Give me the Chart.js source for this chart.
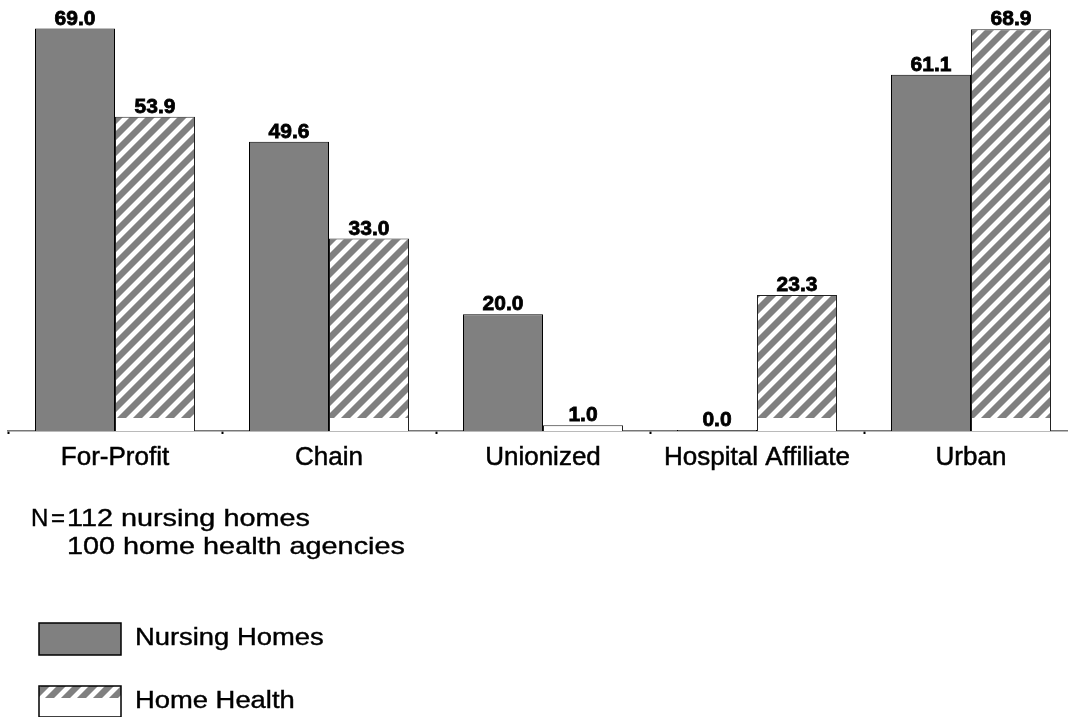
<!DOCTYPE html>
<html><head><meta charset="utf-8">
<script src="https://cdn.jsdelivr.net/npm/chart.js@4.4.1/dist/chart.umd.min.js"></script>
<style>
html,body{margin:0;padding:0;background:#fff;overflow:hidden;width:1068px;height:717px}
#wrap{position:absolute;left:0;top:0;width:1080px;height:717px}
</style>
</head><body><div id="wrap"><canvas id="c" width="1080" height="717"></canvas></div>
<script>
const categories = ['For-Profit', 'Chain', 'Unionized', 'Hospital Affiliate', 'Urban'];
const nursingHomes = [69.0, 49.6, 20.0, 0.0, 61.1];
const homeHealth = [53.9, 33.0, 1.0, 23.3, 68.9];
const seriesNames = ['Nursing Homes', 'Home Health'];
const noteLabel = ['N', '='];
const noteLines = ['112 nursing homes', '100 home health agencies'];

const FONT = '"Liberation Sans", Arial, Helvetica, sans-serif';
const canvas = document.getElementById('c');
const ctx = canvas.getContext('2d');

function makeHatch() {
  const w = 16, h = 432;
  const c = document.createElement('canvas');
  c.width = w; c.height = h;
  const x = c.getContext('2d');
  const img = x.createImageData(w, h);
  for (let j = 0; j < h; j++) {
    for (let i = 0; i < w; i++) {
      const k = (j * w + i) * 4;
      const m = (i + j) % 16;
      let v;
      if (j >= 418) v = 255;
      else if (m < 6) v = 255;
      else if (m === 6 || m === 15) v = 185;
      else v = 128;
      img.data[k] = img.data[k + 1] = img.data[k + 2] = v;
      img.data[k + 3] = 255;
    }
  }
  x.putImageData(img, 0, 0);
  return ctx.createPattern(c, 'repeat');
}
const hatch = makeHatch();

function stretchedText(c, text, x, y, size, sx, weight, stroke) {
  c.save();
  c.translate(x, y);
  c.scale(sx, 1);
  c.font = (weight ? weight + ' ' : '') + size + 'px ' + FONT;
  c.fillText(text, 0, 0);
  if (stroke) { c.lineWidth = stroke; c.strokeStyle = c.fillStyle; c.strokeText(text, 0, 0); }
  c.restore();
}

const valueLabels = {
  id: 'valueLabels',
  afterDatasetsDraw(chart) {
    const c = chart.ctx;
    c.save();
    c.fillStyle = '#000';
    c.strokeStyle = '#000';
    c.lineWidth = 0.8;
    c.textAlign = 'center';
    c.textBaseline = 'alphabetic';
    c.font = 'bold 21px ' + FONT;
    chart.data.datasets.forEach((ds, di) => {
      const meta = chart.getDatasetMeta(di);
      meta.data.forEach((el, i) => {
        const t = ds.data[i].toFixed(1);
        c.fillText(t, el.x, el.y - 4);
        c.strokeText(t, el.x, el.y - 4);
      });
    });
    c.restore();
  }
};

const notesAndLegend = {
  id: 'notesAndLegend',
  afterDraw(chart) {
    const c = chart.ctx;
    c.save();
    c.fillStyle = '#000';
    c.textAlign = 'left';
    c.textBaseline = 'alphabetic';
    stretchedText(c, noteLabel[0], 31, 526, 24, 1.0, '', 0.4);
    stretchedText(c, noteLabel[1], 51, 526, 24, 1.0, '', 0.4);
    stretchedText(c, noteLines[0], 67, 526, 24, 1.2, '', 0.4);
    stretchedText(c, noteLines[1], 67, 554, 24, 1.2, '', 0.4);

    // legend swatches
    const ds0 = chart.data.datasets[0], ds1 = chart.data.datasets[1];
    c.fillStyle = ds0.backgroundColor;
    c.fillRect(39, 623, 82, 32);
    c.lineWidth = 1.5;
    c.strokeStyle = '#000';
    c.strokeRect(39, 623, 82, 32);

    c.fillStyle = ds1.backgroundColor;
    c.fillRect(39, 686, 82, 31);
    c.fillStyle = '#fff';
    c.fillRect(39, 698, 82, 19);
    c.strokeRect(39, 686, 82, 31);

    c.fillStyle = '#000';
    stretchedText(c, seriesNames[0], 135, 645, 23, 1.19, '', 0.4);
    stretchedText(c, seriesNames[1], 135, 708, 23, 1.19, '', 0.4);
    c.restore();
  }
};

new Chart(ctx, {
  type: 'bar',
  data: {
    labels: categories,
    datasets: [
      { label: seriesNames[0], data: nursingHomes, backgroundColor: '#808080', borderColor: '#000', borderWidth: 1, minBarLength: 1 },
      { label: seriesNames[1], data: homeHealth, backgroundColor: hatch, borderColor: '#222', borderWidth: 1 }
    ]
  },
  options: {
    responsive: false,
    devicePixelRatio: 1,
    animation: false,
    datasets: { bar: { categoryPercentage: 160 / 214, barPercentage: 1 } },
    layout: { padding: { left: 8, right: 2, top: 0, bottom: 246 } },
    plugins: { legend: { display: false }, tooltip: { enabled: false }, title: { display: false } },
    scales: {
      x: {
        offset: true,
        grid: { display: true, drawOnChartArea: false, drawTicks: true, tickLength: 3, tickWidth: 2, color: '#000', offset: true },
        border: { display: true, color: '#777', width: 1.5 },
        ticks: { color: '#000', textStrokeColor: '#000', textStrokeWidth: 0.5, font: { family: FONT, size: 26 }, padding: 8, maxRotation: 0, autoSkip: false },
        afterFit(s) { s.height = 40; }
      },
      y: { display: false, min: 0, max: 73.9 }
    }
  },
  plugins: [valueLabels, notesAndLegend]
});
</script>
</body></html>
